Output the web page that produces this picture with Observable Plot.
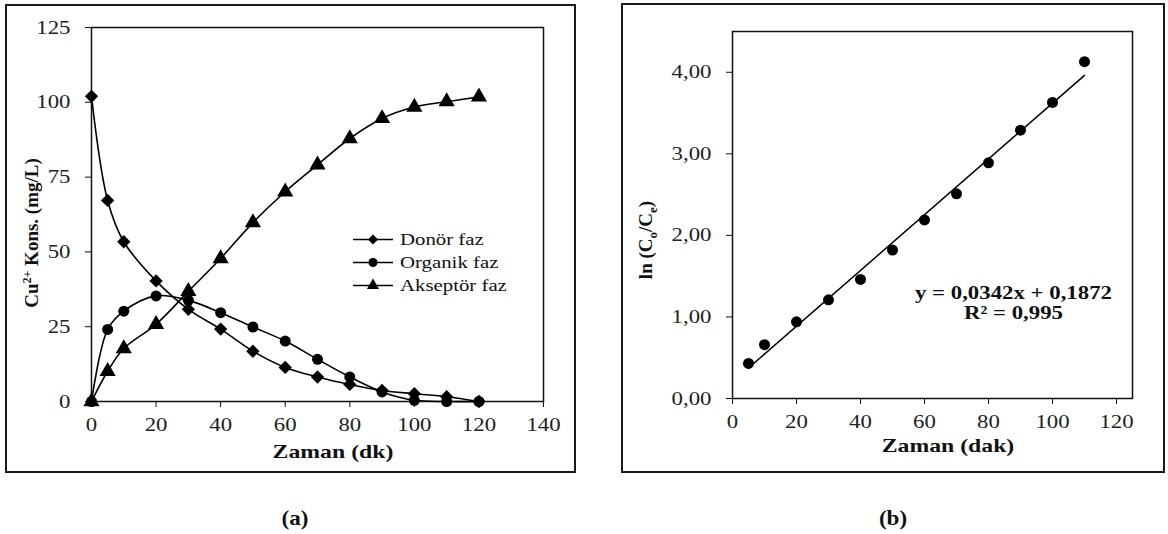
<!DOCTYPE html>
<html><head><meta charset="utf-8">
<script src="https://cdn.jsdelivr.net/npm/d3@7"></script>
<script src="https://cdn.jsdelivr.net/npm/@observablehq/plot@0.6"></script>
<style>
body{margin:0;background:#fff;}
#wrap{position:relative;width:1168px;height:534px;overflow:hidden;font-family:"Liberation Serif","Times New Roman",serif;color:#111;}
.frame{position:absolute;border:2px solid #1a1a1a;box-sizing:border-box;}
.chart{position:absolute;top:0;}
.cap{position:absolute;font-weight:bold;font-size:22px;transform:translate(-50%,-50%) scaleX(1.05);}
#legend{position:absolute;left:353px;top:228px;font-size:16px;}
.lrow{display:flex;align-items:center;height:23px;}
.lrow span{display:inline-block;margin-left:7px;transform:scaleX(1.3);transform-origin:left center;white-space:nowrap;color:#111;}
</style></head><body>
<div id="wrap">
  <div class="frame" style="left:5px;top:4px;width:571px;height:469px"></div>
  <div class="frame" style="left:621px;top:3px;width:544px;height:470px"></div>
  <div id="a" class="chart" style="left:0"></div>
  <div id="b" class="chart" style="left:600px"></div>
  <div id="legend"></div>
  <div class="cap" style="left:295px;top:518px">(a)</div>
  <div class="cap" style="left:893px;top:518px">(b)</div>
</div>
<script>
// ---- Chart (a) data ----
const time = [0, 5, 10, 20, 30, 40, 50, 60, 70, 80, 90, 100, 110, 120];
const donor = [102, 67.2, 53.4, 40.3, 30.8, 24.2, 16.8, 11.4, 8.2, 5.7, 3.7, 2.6, 1.6, 0];
const organik = [0, 24.1, 30.2, 35.3, 33.8, 29.7, 24.9, 20.2, 14.1, 8.2, 3.2, 0.4, 0, 0];
const akseptor = [0, 10.1, 17.7, 25.8, 36.8, 47.8, 59.8, 70.1, 79.1, 87.9, 94.6, 98.4, 100.2, 101.8];
const seriesNames = ["Donör faz", "Organik faz", "Akseptör faz"];
const seriesSymbols = ["diamond2", "circle", "triangle"];
const xTicksA = [0, 20, 40, 60, 80, 100, 120, 140];
const yTicksA = [0, 25, 50, 75, 100, 125];

// ---- Chart (b) data ----
const lnTime = [5, 10, 20, 30, 40, 50, 60, 70, 80, 90, 100, 110];
const lnRatio = [0.43, 0.66, 0.94, 1.21, 1.46, 1.82, 2.19, 2.51, 2.89, 3.29, 3.63, 4.13];
const xTicksB = [0, 20, 40, 60, 80, 100, 120];
const yTicksB = [0, 1, 2, 3, 4];
const eqLines = ["y = 0,0342x + 0,1872", "R² = 0,995"];

const seriesVals = [donor, organik, akseptor];
const rowsA = seriesNames.flatMap((s, k) => time.map((t, i) => ({t, v: seriesVals[k][i], s})));
const rowsB = lnTime.map((t, i) => ({t, v: lnRatio[i]}));
const symR = {"diamond2": 6, "circle": 5.5, "triangle": 6};

function stretch(svg, f, sel) {
  svg.querySelectorAll(sel || "text").forEach(t => {
    if (t.querySelector("tspan")) return;
    const tr = t.getAttribute("transform") || "";
    if (tr.includes("rotate")) return;
    const L = t.getComputedTextLength();
    if (L > 0) { t.setAttribute("textLength", (L * f).toFixed(1)); t.setAttribute("lengthAdjust", "spacingAndGlyphs"); }
  });
}

const baseStyle = {background: "transparent", fontFamily: "Liberation Serif, Times New Roman, serif", fontSize: "19px", color: "#222", overflow: "visible"};

// ---- Plot (a) ----
const plotA = Plot.plot({
  width: 580, height: 475,
  marginLeft: 91, marginRight: 37, marginTop: 27, marginBottom: 74,
  style: baseStyle,
  x: {domain: [0, 140], label: null},
  y: {domain: [0, 125], label: null},
  marks: [
    Plot.axisX(xTicksA, {tickSize: 6, tickPadding: 10, fontSize: 19, stroke: "#111"}),
    Plot.axisY(yTicksA, {tickSize: 6, tickPadding: 15, fontSize: 19, stroke: "#111"}),
    Plot.frame({stroke: "#111", strokeWidth: 1.5}),
    Plot.line(rowsA, {x: "t", y: "v", z: "s", curve: "catmull-rom", stroke: "#000", strokeWidth: 1.6}),
    ...seriesNames.map((s, k) => Plot.dot(rowsA.filter(d => d.s === s), {x: "t", y: "v", symbol: seriesSymbols[k], r: symR[seriesSymbols[k]], fill: "#000", stroke: "none"}))
  ]
});
document.getElementById("a").appendChild(plotA);

// ---- Plot (b) ----
const plotB = Plot.plot({
  width: 568, height: 475,
  marginLeft: 132, marginRight: 36, marginTop: 31, marginBottom: 77,
  style: baseStyle,
  x: {domain: [0, 125], label: null},
  y: {domain: [0, 4.5], label: null},
  marks: [
    Plot.axisX(xTicksB, {tickSize: 6, tickPadding: 10, fontSize: 19, stroke: "#111"}),
    Plot.axisY(yTicksB, {tickSize: 6, tickPadding: 15, fontSize: 19, stroke: "#111", tickFormat: d => d.toFixed(2).replace(".", ",")}),
    Plot.frame({stroke: "#111", strokeWidth: 1.5}),
    Plot.linearRegressionY(rowsB, {x: "t", y: "v", ci: 0, stroke: "#000", strokeWidth: 1.5}),
    Plot.dot(rowsB, {x: "t", y: "v", r: 5.5, fill: "#000", stroke: "none"}),
    Plot.text(eqLines, {x: () => 87.8, y: (d, i) => 1.30 - i * 0.245, text: d => d, fontWeight: "bold", fontSize: 19, fill: "#111", textAnchor: "middle"})
  ]
});
document.getElementById("b").appendChild(plotB);

// ---- axis titles ----
function addTitles(svgEl, yx, yy, ybuild, xx, xy, xtext) {
  const s = d3.select(svgEl);
  const yt = s.append("text").attr("transform", `translate(${yx},${yy}) rotate(-90)`)
    .attr("text-anchor", "middle").attr("dy", "0.35em")
    .attr("font-weight", "bold").attr("font-size", 19).attr("fill", "#111");
  ybuild(yt);
  s.append("text").attr("x", xx).attr("y", xy).attr("dy", "0.35em")
    .attr("text-anchor", "middle").attr("font-weight", "bold").attr("font-size", 19).attr("fill", "#111")
    .attr("class", "xtitle").text(xtext);
}
addTitles(plotA, 31, 233, t => {
  t.append("tspan").text("Cu");
  t.append("tspan").attr("dy", -7).attr("font-size", 12).text("2+");
  t.append("tspan").attr("dy", 7).text(" Kons. (mg/L)");
}, 333, 451, "Zaman (dk)");
addTitles(plotB, 45, 240, t => {
  t.append("tspan").text("ln (C");
  t.append("tspan").attr("dy", 5).attr("font-size", 13).text("o");
  t.append("tspan").attr("dy", -5).text("/C");
  t.append("tspan").attr("dy", 5).attr("font-size", 13).text("e");
  t.append("tspan").attr("dy", -5).text(")");
}, 348, 445, "Zaman (dak)");

[plotA, plotB].forEach(svg => {
  stretch(svg, 1.25, "text.xtitle");
  stretch(svg, 1.2, "g[aria-label$='tick label'] text, g[aria-label='text'] text");
});

// ---- legend (a) ----
const leg = d3.select("#legend");
seriesNames.forEach((name, k) => {
  const row = leg.append("div").attr("class", "lrow");
  const sv = row.append("svg").attr("width", 40).attr("height", 23);
  sv.append("line").attr("x1", 0).attr("x2", 40).attr("y1", 11.5).attr("y2", 11.5).attr("stroke", "#000").attr("stroke-width", 1.5);
  const symType = {diamond2: d3.symbolDiamond2, circle: d3.symbolCircle, triangle: d3.symbolTriangle}[seriesSymbols[k]];
  sv.append("path").attr("transform", "translate(20,11.5)").attr("d", d3.symbol(symType, Math.PI * 4.5 * 4.5)()).attr("fill", "#000");
  row.append("span").text(name);
});
</script>
</body></html>
